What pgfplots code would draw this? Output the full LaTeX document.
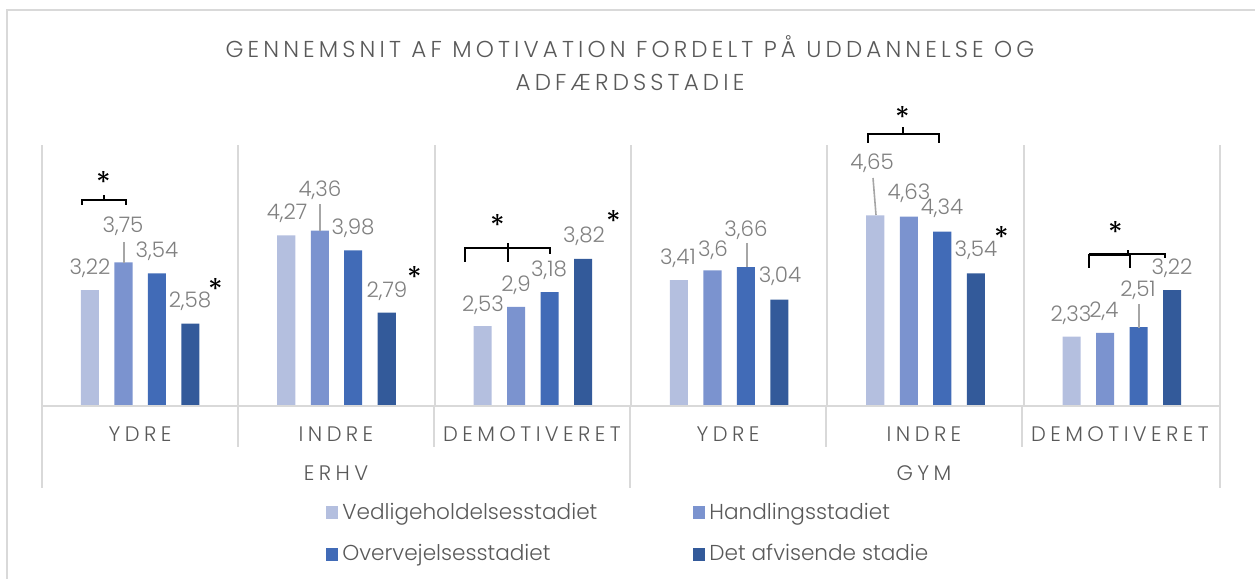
\documentclass[border=0pt]{standalone}
\usepackage{pgfplots}
\pgfplotsset{compat=1.18}
\usepackage{fontspec}
\setmainfont{Poppins Light}
\newfontfamily\spacedfont[LetterSpace=21]{Poppins Light}
\newfontfamily\titlefont[LetterSpace=18]{Poppins Light}
\newfontfamily\starfont{Poppins}

\definecolor{c1}{HTML}{B4BFDF}
\definecolor{c2}{HTML}{7B93CF}
\definecolor{c3}{HTML}{416BB7}
\definecolor{c4}{HTML}{335A9A}
\definecolor{txt}{HTML}{595959}
\definecolor{lbl}{HTML}{808080}
\definecolor{gridc}{HTML}{D9D9D9}
\definecolor{leader}{HTML}{A6A6A6}

\begin{document}
\begin{tikzpicture}[x=0.5bp,y=0.5bp]
\useasboundingbox (0,0) rectangle (1255,579);
\begin{axis}[
    at={(21bp,86.5bp)}, anchor=south west,
    width=589bp, height=130.5bp, scale only axis,
    xmin=-0.5, xmax=5.5, ymin=1, ymax=6,
    axis line style={draw=none},
    xtick={-0.5,0.5,...,5.5}, xticklabel=\empty, ytick=\empty,
    major tick length=0pt,
    xmajorgrids, major grid style={gridc, line width=0.9bp},
    clip=false,
    bar width=0.092,
    legend columns=2,
    legend cell align=left,
    legend style={at={(0.236,-0.34)}, anchor=north west, draw=none, fill=none,
        font=\fontsize{10.8bp}{12bp}\selectfont, text=txt,
        /tikz/every even column/.append style={column sep=46bp},
        row sep=7bp},
]
% ERHV: YDRE, INDRE, DEMOTIVERET; GYM: YDRE, INDRE, DEMOTIVERET
\addplot[ybar, bar shift=-0.256, fill=c1, draw=none,
    legend image code/.code={\fill[c1] (0bp,-3.3bp) rectangle (6bp,3.2bp);}]
    coordinates {(0,3.22) (1,4.27) (2,2.53) (3,3.41) (4,4.65) (5,2.33)};
\addplot[ybar, bar shift=-0.085, fill=c2, draw=none,
    legend image code/.code={\fill[c2] (0bp,-3.3bp) rectangle (6bp,3.2bp);}]
    coordinates {(0,3.75) (1,4.36) (2,2.9) (3,3.6) (4,4.63) (5,2.4)};
\addplot[ybar, bar shift=0.085, fill=c3, draw=none,
    legend image code/.code={\fill[c3] (0bp,-3.3bp) rectangle (6bp,3.2bp);}]
    coordinates {(0,3.54) (1,3.98) (2,3.18) (3,3.66) (4,4.34) (5,2.51)};
\addplot[ybar, bar shift=0.256, fill=c4, draw=none,
    legend image code/.code={\fill[c4] (0bp,-3.3bp) rectangle (6bp,3.2bp);}]
    coordinates {(0,2.58) (1,2.79) (2,3.82) (3,3.04) (4,3.54) (5,3.22)};
\legend{Vedligeholdelsesstadiet, Handlingsstadiet, Overvejelsesstadiet, Det afvisende stadie}
\end{axis}

\begin{scope}[shift={(0,579)}, yscale=-1]
% chart frame
\draw[gridc, line width=1bp] (7,600) -- (7,10) -- (1270,10);
% category axis
\draw[gridc, line width=0.9bp] (42,406) -- (1220,406);
\foreach \x in {238,434,826,1022} \draw[gridc, line width=0.9bp] (\x,406) -- (\x,447);
\foreach \x in {42,630,1220} \draw[gridc, line width=0.9bp] (\x,406) -- (\x,488);
\foreach \x/\t in {140/YDRE, 336/INDRE, 532/DEMOTIVERET, 728/YDRE, 924/INDRE, 1120/DEMOTIVERET}
    \node[text=txt, font=\spacedfont\fontsize{10.5bp}{12bp}\selectfont] at (\x,434) {\t};
\node[text=txt, font=\spacedfont\fontsize{10.5bp}{12bp}\selectfont] at (336,473) {ERHV};
\node[text=txt, font=\spacedfont\fontsize{10.5bp}{12bp}\selectfont] at (924,473) {GYM};
% title
\node[text=txt, align=center, font=\titlefont\fontsize{11.5bp}{16.5bp}\selectfont] at (630,63)
    {GENNEMSNIT AF MOTIVATION FORDELT PÅ UDDANNELSE OG\\ADFÆRDSSTADIE};
% data labels
\foreach \x/\y/\t in {90/275/{3,22}, 123/233/{3,75}, 157/258/{3,54}, 190/308/{2,58},
    287/220/{4,27}, 320/197/{4,36}, 353/235/{3,98}, 387/298/{2,79},
    483/312/{2,53}, 516/292/{2,9}, 549/277/{3,18}, 584/243/{3,82},
    678/265/{3,41}, 713/257/{3,6}, 746/237/{3,66}, 780/283/{3,04},
    872/170/{4,65}, 909/200/{4,63}, 942/215/{4,34}, 976/257/{3,54},
    1071/322/{2,33}, 1104/318/{2,4}, 1138/297/{2,51}, 1172/275/{3,22}}
    \node[anchor=base, text=lbl, inner sep=0pt, font=\fontsize{10.7bp}{12bp}\selectfont] at (\x,\y) {\t};
% leader lines
\draw[leader, line width=0.8bp] (124,242) -- (124,263);
\draw[leader, line width=0.8bp] (320,204) -- (320,231);
\draw[leader, line width=0.8bp] (747,243) -- (747,267);
\draw[leader, line width=0.8bp] (873,178) -- (876,215);
\draw[leader, line width=0.8bp] (1139,304) -- (1139,328);
% significance brackets
\draw[black, line width=0.6bp] (82,205) -- (82,200) -- (126,200) -- (126,205) (104,200) -- (104,195);
\draw[black, line width=1bp] (465,262) -- (465,248) -- (508,248) -- (508,262);
\draw[black, line width=0.6bp] (508,248) -- (550,248) -- (550,254) (508,248) -- (508,243);
\draw[black, line width=0.6bp] (868,143) -- (868,134) -- (939,134) -- (939,143) (903,134) -- (903,127);
\draw[black, line width=1bp] (1089,268) -- (1089,255) -- (1130,255) -- (1130,268);
\draw[black, line width=0.6bp] (1089,254) -- (1165,254) -- (1165,258) (1128,254) -- (1128,250);
% stars
\foreach \x/\y in {104/178, 216/285, 415/273, 498/221, 614/217, 903/113, 1002/233, 1116/228}
    \node[anchor=base, inner sep=0pt, font=\starfont\fontsize{15bp}{15bp}\selectfont] at (\x,\y+16) {*};
\end{scope}
\end{tikzpicture}
\end{document}
